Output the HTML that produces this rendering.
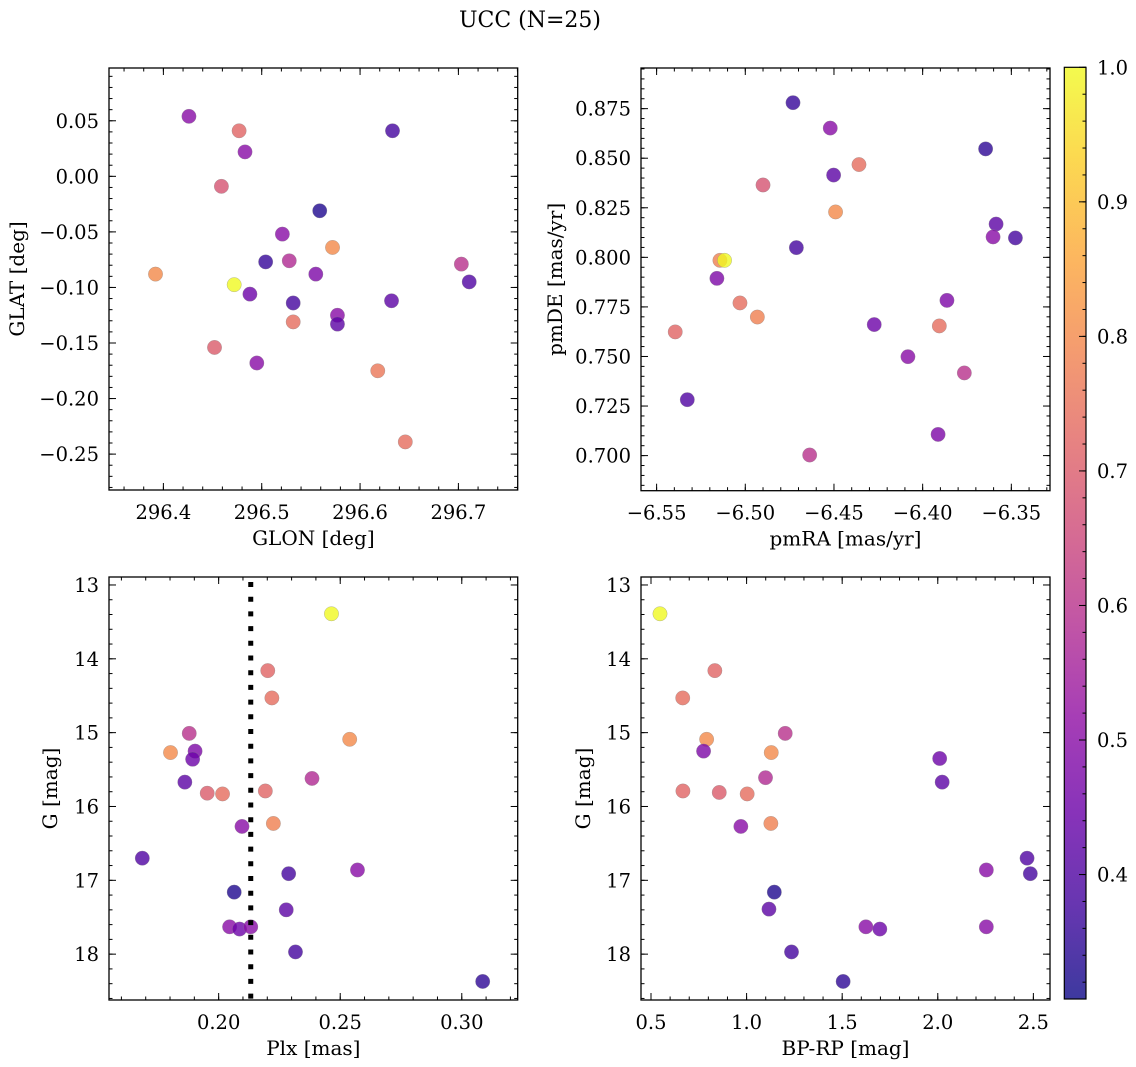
<!DOCTYPE html>
<html><head><meta charset="utf-8"><style>
html,body{margin:0;padding:0;background:#fff;}
svg{display:block;font-family:"DejaVu Serif","Liberation Serif",serif;}
</style></head><body>
<svg id="fig" width="1136" height="1067" viewBox="0 0 1136 1067" xmlns="http://www.w3.org/2000/svg">
<rect width="1136" height="1067" fill="#fff"/>
<text x="530" y="27" font-size="22" text-anchor="middle" fill="#000">UCC (N=25)</text>
<defs>
<linearGradient id="cbgrad" x1="0" y1="1" x2="0" y2="0">
<stop offset="0" stop-color="#0d0887"/><stop offset="0.1" stop-color="#41049d"/><stop offset="0.2" stop-color="#6a00a8"/><stop offset="0.3" stop-color="#8f0da4"/><stop offset="0.4" stop-color="#b12a90"/><stop offset="0.5" stop-color="#cc4778"/><stop offset="0.6" stop-color="#e16462"/><stop offset="0.7" stop-color="#f2844b"/><stop offset="0.8" stop-color="#fca636"/><stop offset="0.9" stop-color="#fcce25"/><stop offset="1" stop-color="#f0f921"/>
</linearGradient>
</defs>
<g id="panels"></g>
</svg>
<script>
// ---- Data ----
const glon = [296.426,296.477,296.483,296.459,296.633,296.559,296.392,296.472,296.504,296.521,296.528,296.572,296.555,296.488,296.532,296.532,296.577,296.577,296.632,296.703,296.711,296.452,296.495,296.618,296.646];
const glat = [0.054,0.041,0.022,-0.009,0.041,-0.031,-0.088,-0.0975,-0.077,-0.052,-0.076,-0.064,-0.088,-0.106,-0.114,-0.131,-0.125,-0.133,-0.112,-0.079,-0.095,-0.154,-0.168,-0.175,-0.239];
const prob1 = [0.50,0.72,0.50,0.68,0.38,0.33,0.80,1.00,0.36,0.50,0.58,0.80,0.48,0.45,0.38,0.74,0.50,0.42,0.42,0.60,0.40,0.70,0.50,0.76,0.74];
const pmra = [-6.4731,-6.4521,-6.3645,-6.4359,-6.4502,-6.4900,-6.4491,-6.3586,-6.3603,-6.3477,-6.4712,-6.5143,-6.5117,-6.5160,-6.5030,-6.4932,-6.3863,-6.4273,-6.3906,-6.5395,-6.4083,-6.3765,-6.5327,-6.3913,-6.4637];
const pmde = [0.8780,0.8652,0.8547,0.8468,0.8415,0.8365,0.8229,0.8168,0.8103,0.8098,0.8049,0.7985,0.7985,0.7894,0.7770,0.7699,0.7783,0.7661,0.7654,0.7624,0.7499,0.7417,0.7282,0.7107,0.7003];
const prob2 = [0.36,0.50,0.35,0.74,0.42,0.68,0.80,0.42,0.50,0.38,0.38,0.78,1.00,0.48,0.74,0.78,0.48,0.45,0.74,0.72,0.50,0.60,0.40,0.48,0.60];
const plx = [0.2464,0.2202,0.2219,0.1879,0.2539,0.1802,0.1903,0.1893,0.1861,0.1953,0.2016,0.2192,0.2384,0.2225,0.2096,0.1686,0.2571,0.2288,0.2064,0.2278,0.2045,0.2086,0.2132,0.2316,0.3086];
const gmag3 = [13.39,14.16,14.53,15.01,15.09,15.27,15.25,15.36,15.67,15.82,15.83,15.79,15.62,16.23,16.27,16.70,16.86,16.91,17.16,17.40,17.63,17.66,17.63,17.97,18.37];
const prob3 = [1.00,0.72,0.74,0.60,0.80,0.80,0.48,0.45,0.42,0.70,0.74,0.72,0.58,0.78,0.50,0.40,0.50,0.38,0.33,0.42,0.50,0.45,0.50,0.38,0.35];
const plxLine = [0.2132];
const bprp = [0.547,0.834,0.666,1.202,0.791,1.129,0.775,2.010,1.099,2.023,0.667,0.857,1.003,0.970,1.127,2.467,2.254,2.484,1.145,1.117,1.624,1.697,2.254,1.235,1.505];
const gmag4 = [13.39,14.16,14.53,15.01,15.09,15.27,15.25,15.35,15.61,15.67,15.79,15.81,15.83,16.27,16.23,16.70,16.86,16.91,17.16,17.39,17.63,17.66,17.63,17.97,18.37];
const prob4 = [1.00,0.72,0.74,0.60,0.80,0.80,0.48,0.45,0.58,0.42,0.72,0.70,0.74,0.50,0.78,0.40,0.50,0.38,0.33,0.42,0.50,0.45,0.50,0.38,0.35];
const ticks1x = [296.4,296.5,296.6,296.7];
const ticks1y = [0.05,0.00,-0.05,-0.10,-0.15,-0.20,-0.25];
const ticks2x = [-6.55,-6.50,-6.45,-6.40,-6.35];
const ticks2y = [0.875,0.850,0.825,0.800,0.775,0.750,0.725,0.700];
const ticks3x = [0.20,0.25,0.30];
const ticksG = [13,14,15,16,17,18];
const ticks4x = [0.5,1.0,1.5,2.0,2.5];
const cbTicks = [0.4,0.5,0.6,0.7,0.8,0.9,1.0];
const vmin = 0.3075, vmax = 1.0;

const NS = "http://www.w3.org/2000/svg";
const root = document.getElementById('panels');
const FS = 19.5, LFS = 20;
function mk(tag, attrs, parent){
  const e = document.createElementNS(NS, tag);
  for (const k in attrs) e.setAttribute(k, attrs[k]);
  (parent||root).appendChild(e);
  return e;
}
const stops = [[13,8,135],[65,4,157],[106,0,168],[143,13,164],[177,42,144],[204,71,120],[225,100,98],[242,132,75],[252,166,54],[252,206,37],[240,249,33]];
function plasma(t){
  t = Math.max(0, Math.min(1, t));
  const s = t*10, i = Math.min(9, Math.floor(s)), f = s - i;
  const a = stops[i], b = stops[i+1];
  return 'rgb(' + [0,1,2].map(j => Math.round(a[j] + (b[j]-a[j])*f)).join(',') + ')';
}

function panel(cfg){
  const {L,T,R,B,xmin,xmax,ymin,ymax,xs,ys,ps,xt,yt,xfmt,yfmt,xminor,yminor,xlabel,ylabel,ylabX,name,invertY} = cfg;
  const sx = v => L + (v - xmin)/(xmax - xmin)*(R - L);
  const sy = invertY ? (v => T + (v - ymin)/(ymax - ymin)*(B - T)) : (v => B - (v - ymin)/(ymax - ymin)*(B - T));
  const g = mk('g', {});
  
  
  const pg = mk('g', {}, g);
  
  
  for (let i = 0; i < xs.length; i++){
    const c = mk('circle', {cx: sx(xs[i]), cy: sy(ys[i]), r: 7.2, fill: plasma((ps[i]-vmin)/(vmax-vmin)), 'fill-opacity': 0.8, stroke: '#888', 'stroke-opacity': 0.6, 'stroke-width': 0.5}, pg);
    
    
  }
  const tg = mk('g', {stroke: '#000', 'stroke-width': 1}, g);
  const lo = Math.min(ymin, ymax), hi = Math.max(ymin, ymax);
  for (let v = Math.ceil(xmin/xminor - 1e-6)*xminor; v <= xmax + 1e-9; v += xminor){
    const x = sx(v);
    mk('line', {x1:x, y1:B, x2:x, y2:B-3.5}, tg); mk('line', {x1:x, y1:T, x2:x, y2:T+3.5}, tg);
  }
  for (let v = Math.ceil(lo/yminor - 1e-6)*yminor; v <= hi + 1e-9; v += yminor){
    const y = sy(v);
    mk('line', {x1:L, y1:y, x2:L+3.5, y2:y}, tg); mk('line', {x1:R, y1:y, x2:R-3.5, y2:y}, tg);
  }
  xt.forEach(v => {
    const x = sx(v);
    mk('line', {x1:x, y1:B, x2:x, y2:B-7}, tg); mk('line', {x1:x, y1:T, x2:x, y2:T+7}, tg);
    const t = mk('text', {x:x, y:B+29, 'font-size':FS, 'text-anchor':'middle', fill:'#000', stroke:'none'}, g);
    t.textContent = xfmt(v);
    
    
  });
  yt.forEach(v => {
    const y = sy(v);
    mk('line', {x1:L, y1:y, x2:L+7, y2:y}, tg); mk('line', {x1:R, y1:y, x2:R-7, y2:y}, tg);
    const t = mk('text', {x:L-10, y:y+7, 'font-size':FS, 'text-anchor':'end', fill:'#000', stroke:'none'}, g);
    t.textContent = yfmt(v);
    
    
  });
  const fr = mk('rect', {x:L, y:T, width:R-L, height:B-T, fill:'none', stroke:'#000', 'stroke-width':1.3}, g);
  
  
  const xl = mk('text', {x:(L+R)/2, y:B+55, 'font-size':LFS, 'text-anchor':'middle', fill:'#000'}, g);
  xl.textContent = xlabel;
  
  
  const cy = (T+B)/2;
  const yl = mk('text', {x:ylabX, y:cy, 'font-size':LFS, 'text-anchor':'middle', fill:'#000', transform:'rotate(-90 '+ylabX+' '+cy+')'}, g);
  yl.textContent = ylabel;
  
  
  return {sx, sy, g};
}
const minus = s => s.replace('-', '\u2212');

panel({L:109,T:68,R:517.7,B:490,xmin:296.3447,xmax:296.7603,ymin:-0.2823,ymax:0.0975,xs:glon,ys:glat,ps:prob1,
  xt:ticks1x,yt:ticks1y,xfmt:v=>v.toFixed(1),yfmt:v=>minus(v.toFixed(2)),xminor:0.02,yminor:0.01,
  xlabel:'GLON [deg]',ylabel:'GLAT [deg]',ylabX:24,name:'glon-glat-panel'});
panel({L:641,T:68,R:1050,B:490.7,xmin:-6.5588,xmax:-6.3282,ymin:0.6823,ymax:0.8955,xs:pmra,ys:pmde,ps:prob2,
  xt:ticks2x,yt:ticks2y,xfmt:v=>minus(v.toFixed(2)),yfmt:v=>v.toFixed(3),xminor:0.01,yminor:0.005,
  xlabel:'pmRA [mas/yr]',ylabel:'pmDE [mas/yr]',ylabX:562,name:'pmra-pmde-panel'});
const p3 = panel({L:109,T:577,R:517.7,B:1000,xmin:0.1549,xmax:0.3230,ymin:12.892,ymax:18.621,xs:plx,ys:gmag3,ps:prob3,invertY:true,
  xt:ticks3x,yt:ticksG,xfmt:v=>v.toFixed(2),yfmt:v=>String(v),xminor:0.01,yminor:0.2,
  xlabel:'Plx [mas]',ylabel:'G [mag]',ylabX:57,name:'plx-g-panel'});
plxLine.forEach(v => {
  const ln = mk('line', {x1:p3.sx(v), y1:577, x2:p3.sx(v), y2:1000, stroke:'#000', 'stroke-width':5, 'stroke-dasharray':'5 9.7', 'stroke-dashoffset':'-5'}, p3.g);
  
  
});
panel({L:641,T:577,R:1050,B:1000,xmin:0.4477,xmax:2.587,ymin:12.892,ymax:18.621,xs:bprp,ys:gmag4,ps:prob4,invertY:true,
  xt:ticks4x,yt:ticksG,xfmt:v=>v.toFixed(1),yfmt:v=>String(v),xminor:0.1,yminor:0.2,
  xlabel:'BP-RP [mag]',ylabel:'G [mag]',ylabX:590,name:'bprp-g-panel'});

const cbL = 1064.3, cbR = 1086, cbT = 67.3, cbB = 999;
const cy = v => cbB - (v - vmin)/(vmax - vmin)*(cbB - cbT);
const cb = mk('g', {});


mk('rect', {x:cbL, y:cbT, width:cbR-cbL, height:cbB-cbT, fill:'url(#cbgrad)', 'fill-opacity':0.8}, cb);
mk('rect', {x:cbL, y:cbT, width:cbR-cbL, height:cbB-cbT, fill:'none', stroke:'#000', 'stroke-width':1.2}, cb);
for (let v = 0.32; v <= 1.0001; v += 0.02){
  mk('line', {x1:cbR, y1:cy(v), x2:cbR-3.5, y2:cy(v), stroke:'#000'}, cb);
}
cbTicks.forEach(v => {
  mk('line', {x1:cbR, y1:cy(v), x2:cbR-7, y2:cy(v), stroke:'#000'}, cb);
  const t = mk('text', {x:cbR+11, y:cy(v)+7, 'font-size':FS, fill:'#000'}, cb);
  t.textContent = v.toFixed(1);
  
  
});
</script>
</body></html>
